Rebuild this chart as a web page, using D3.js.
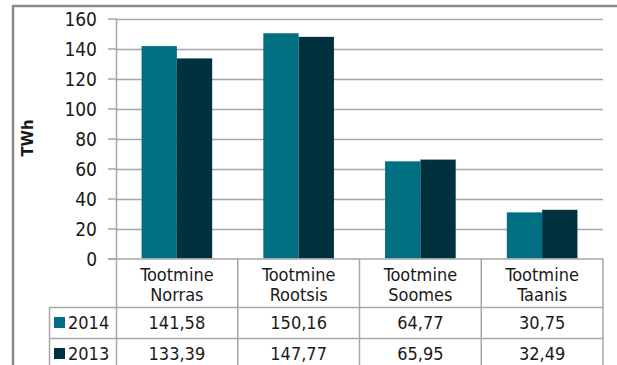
<!DOCTYPE html>
<html>
<head>
<meta charset="utf-8">
<script src="https://cdn.jsdelivr.net/npm/d3@7"></script>
<style>
  html, body { margin: 0; padding: 0; background: #fff; }
  svg { display: block; }
  text { font-family: "DejaVu Sans Condensed", "DejaVu Sans", sans-serif; font-stretch: condensed; fill: #1a1a1a; }
</style>
</head>
<body>
<svg id="chart" width="617" height="365"></svg>
<script>
// Electricity production by country, TWh
const categories = [["Tootmine", "Norras"], ["Tootmine", "Rootsis"], ["Tootmine", "Soomes"], ["Tootmine", "Taanis"]];
const seriesNames = ["2014", "2013"];
const values2014 = [141.58, 150.16, 64.77, 30.75];
const values2013 = [133.39, 147.77, 65.95, 32.49];
const yTicks = [0, 20, 40, 60, 80, 100, 120, 140, 160];
const colors = ["#006f81", "#00313f"];
const yTitle = "TWh";

(function () {
  const series = [values2014, values2013];
  const fmt = v => v.toFixed(2).replace(".", ",");
  const catKeys = categories.map(c => c.join(" "));

  const svg = d3.select("#chart");
  const W = 617, H = 365;
  const plotL = 116, plotR = 603, plotT = 18.5, base = 258.5;
  const gridColor = "#a6a6a6";

  const y = d3.scaleLinear().domain([0, 160]).range([base, plotT]);
  const x = d3.scaleBand().domain(catKeys).range([plotL, plotR]).paddingInner(0).paddingOuter(0);
  const bw = x.bandwidth();
  const x1 = d3.scaleBand().domain(seriesNames).range([bw * 0.21, bw * 0.79]).padding(0);

  // outer frame (top and left edges)
  svg.append("path")
    .attr("d", `M13,${H} L13,6 L${W},6`)
    .attr("fill", "none").attr("stroke", "#8a8a8a").attr("stroke-width", 2.5);

  // horizontal gridlines
  svg.append("g").selectAll("line").data(yTicks.filter(t => t > 0)).join("line")
    .attr("x1", plotL).attr("x2", plotR)
    .attr("y1", d => Math.round(y(d)) + 0.5).attr("y2", d => Math.round(y(d)) + 0.5)
    .attr("stroke", gridColor).attr("stroke-width", 1.5);

  // bars
  const groups = svg.append("g").selectAll("g").data(catKeys).join("g")
    .attr("transform", d => `translate(${x(d)},0)`);
  groups.selectAll("rect").data((d, i) => series.map((s, j) => ({ key: seriesNames[j], v: s[i], j })))
    .join("rect")
    .attr("x", d => x1(d.key))
    .attr("width", x1.bandwidth())
    .attr("y", d => y(d.v))
    .attr("height", d => base - y(d.v))
    .attr("fill", d => colors[d.j]);

  // y axis
  const yAxis = d3.axisLeft(y).tickValues(yTicks).tickSize(8).tickPadding(11).tickFormat(d3.format("d"));
  const ag = svg.append("g").attr("transform", `translate(${plotL},0)`).call(yAxis);
  ag.select(".domain").remove();
  ag.selectAll(".tick line").attr("stroke", gridColor).attr("stroke-width", 1.5);
  ag.selectAll(".tick text").attr("font-size", 19).attr("fill", "#1a1a1a").attr("dy", "0.36em")
    .attr("font-family", null);

  // y title
  svg.append("text")
    .attr("transform", `translate(33,138) rotate(-90)`)
    .attr("text-anchor", "middle")
    .attr("font-weight", "bold").attr("font-size", 16.5)
    .text(yTitle);

  // data table beneath the plot
  const row1 = 307, row2 = 338, tableL = 49;
  const tbl = svg.append("g").attr("stroke", gridColor).attr("stroke-width", 1.5);
  // axis line continuing down as first column edge
  tbl.append("line").attr("x1", plotL + 0.5).attr("x2", plotL + 0.5).attr("y1", plotT).attr("y2", H);
  // zero line
  tbl.append("line").attr("x1", plotL - 8).attr("x2", plotR).attr("y1", base + 0.5).attr("y2", base + 0.5);
  // column edges
  tbl.selectAll(".col").data(catKeys).join("line")
    .attr("x1", d => x(d) + bw).attr("x2", d => x(d) + bw)
    .attr("y1", base).attr("y2", H);
  // row lines
  tbl.selectAll(".row").data([row1, row2]).join("line")
    .attr("x1", tableL).attr("x2", plotR)
    .attr("y1", d => d + 0.5).attr("y2", d => d + 0.5);
  tbl.append("line").attr("x1", tableL + 0.5).attr("x2", tableL + 0.5).attr("y1", row1).attr("y2", H);

  // header labels
  const hdr = svg.append("g").selectAll("text").data(categories).join("text")
    .attr("text-anchor", "middle").attr("font-size", 18);
  hdr.append("tspan").attr("x", (d, i) => x(catKeys[i]) + bw / 2).attr("y", 281).text(d => d[0]);
  hdr.append("tspan").attr("x", (d, i) => x(catKeys[i]) + bw / 2).attr("y", 301).text(d => d[1]);

  // value rows with legend keys
  const rowYs = [row1, row2];
  seriesNames.forEach((name, j) => {
    const cy = rowYs[j] + 15.5;
    svg.append("rect").attr("x", 54).attr("y", cy - 5.5).attr("width", 11).attr("height", 11).attr("fill", colors[j]);
    svg.append("text").attr("x", 68).attr("y", cy).attr("dy", "0.36em").attr("font-size", 18).text(name);
    svg.append("g").selectAll("text").data(series[j]).join("text")
      .attr("x", (d, i) => x(catKeys[i]) + bw / 2)
      .attr("y", cy).attr("dy", "0.36em")
      .attr("text-anchor", "middle").attr("font-size", 18)
      .text(fmt);
  });
})();
</script>
</body>
</html>
